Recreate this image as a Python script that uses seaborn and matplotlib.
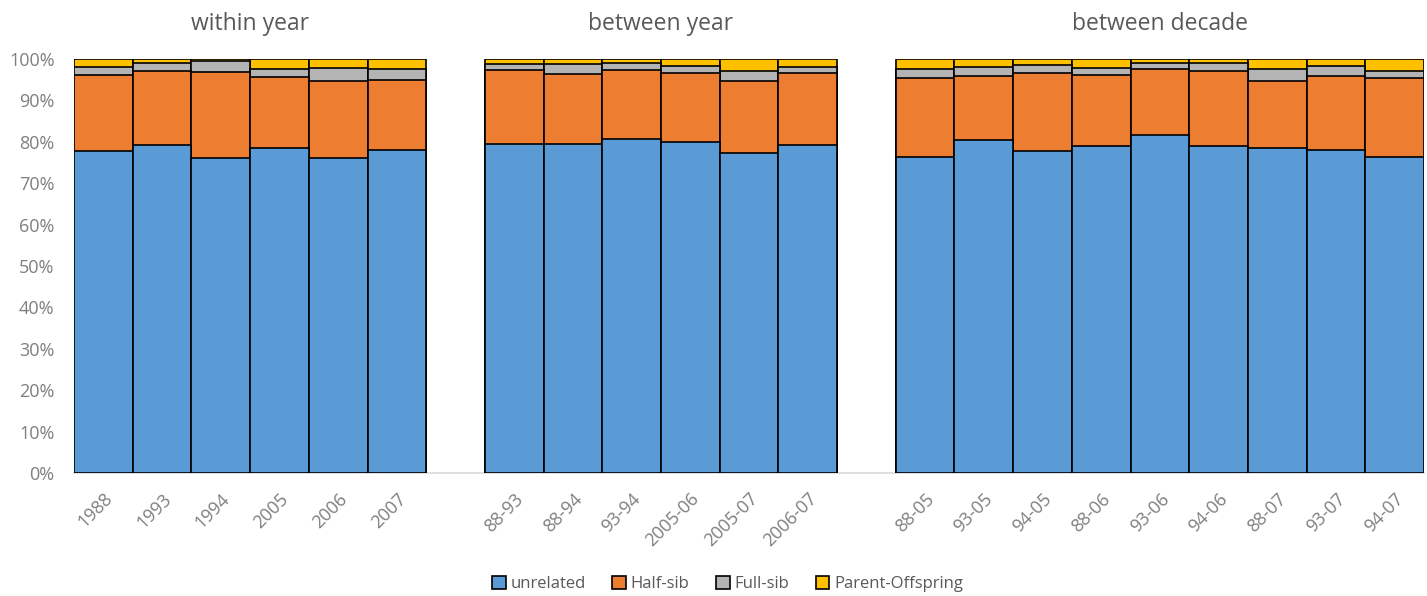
import matplotlib
matplotlib.use("Agg")
import matplotlib.pyplot as plt
import seaborn as sns
import pandas as pd
import numpy as np
from matplotlib.patches import Patch

# ---- data (percent) ----
within_cats = ["1988", "1993", "1994", "2005", "2006", "2007"]
within_unrel = [77.8, 79.2, 76.1, 78.4, 76.1, 78.0]
within_half = [18.4, 18.0, 20.7, 17.3, 18.5, 17.0]
within_full = [1.8, 1.8, 2.8, 1.8, 3.2, 2.5]
within_po = [2.0, 1.0, 0.4, 2.5, 2.2, 2.5]

between_cats = ["88-93", "88-94", "93-94", "2005-06", "2005-07", "2006-07"]
between_unrel = [79.4, 79.4, 80.7, 79.9, 77.2, 79.2]
between_half = [17.9, 17.0, 16.6, 16.6, 17.4, 17.5]
between_full = [1.5, 2.4, 1.8, 1.8, 2.6, 1.4]
between_po = [1.2, 1.2, 0.9, 1.7, 2.8, 1.9]

decade_cats = ["88-05", "93-05", "94-05", "88-06", "93-06", "94-06", "88-07", "93-07", "94-07"]
decade_unrel = [76.4, 80.5, 77.8, 79.0, 81.6, 79.0, 78.5, 78.0, 76.4]
decade_half = [18.9, 15.5, 18.9, 17.2, 15.9, 18.2, 16.3, 17.8, 18.9]
decade_full = [2.4, 2.1, 1.9, 1.7, 1.5, 1.9, 2.8, 2.6, 1.8]
decade_po = [2.3, 1.9, 1.4, 2.1, 1.0, 0.9, 2.4, 1.6, 2.9]

group_titles = ["within year", "between year", "between decade"]
series_names = ["unrelated", "Half-sib", "Full-sib", "Parent-Offspring"]
colors = ["#5B9BD5", "#ED7D31", "#B4B4B4", "#FFC000"]

cats = within_cats + between_cats + decade_cats
unrel = within_unrel + between_unrel + decade_unrel
half = within_half + between_half + decade_half
full = within_full + between_full + decade_full
po = within_po + between_po + decade_po

df = pd.DataFrame({"cat": cats, "unrel": unrel, "half": half, "full": full, "po": po})
df["c1"] = df["unrel"] / 100
df["c2"] = (df["unrel"] + df["half"]) / 100
df["c3"] = (df["unrel"] + df["half"] + df["full"]) / 100
df["c4"] = (df["unrel"] + df["half"] + df["full"] + df["po"]) / 100

gap1, gap2 = "\u2002", "\u2002\u2002"
order = within_cats + [gap1] + between_cats + [gap2] + decade_cats

sns.set_theme(style="white")
plt.rcParams["font.family"] = ["Open Sans", "DejaVu Sans"]

fig = plt.figure(figsize=(14.27, 5.96), dpi=100)
ax = fig.add_axes([0.0519, 0.2064, 0.946, 0.6946])

for col, color in zip(["c4", "c3", "c2", "c1"], colors[::-1]):
    sns.barplot(data=df, x="cat", y=col, order=order, color=color,
                width=1.0, edgecolor="black", linewidth=1.2, ax=ax,
                saturation=1, zorder=3)

ax.set_xlim(-0.5, len(order) - 0.5)
ax.set_ylim(0, 1.0)
ax.set_yticks(np.arange(0, 1.01, 0.1))
ax.set_yticklabels([f"{int(round(v*100))}%" for v in np.arange(0, 1.01, 0.1)],
                   color="#7F7F7F", fontsize=13)
ax.grid(False)
ax.set_xlabel("")
ax.set_ylabel("")
for s in ["top", "right", "left"]:
    ax.spines[s].set_visible(False)
ax.spines["bottom"].set_color("#D9D9D9")
ax.spines["bottom"].set_linewidth(1.2)
ax.tick_params(axis="y", length=0, pad=14)
ax.tick_params(axis="x", length=0, pad=12)
labels = ["" if c.strip() == "" else c for c in order]
ax.set_xticks(range(len(order)))
ax.set_xticklabels(labels, rotation=45, ha="right", rotation_mode="anchor",
                   color="#7F7F7F", fontsize=13)

# group titles
starts = [0, 7, 14]
lens = [6, 6, 9]
for t, s, n in zip(group_titles, starts, lens):
    xc = s + (n - 1) / 2
    ax.text(xc, 1.0 + 0.07, t, ha="center", va="baseline", fontsize=16.5,
            color="#595959", transform=ax.get_xaxis_transform())

handles = [Patch(facecolor=c, edgecolor="black", linewidth=1.2) for c in colors]
fig.legend(handles, series_names, loc="center", bbox_to_anchor=(0.51, 0.02),
           ncol=4, frameon=False, fontsize=12, handlelength=0.8, handleheight=0.8,
           handletextpad=0.3, columnspacing=1.6, labelcolor="#595959")

fig.savefig("out.png", dpi=100)
